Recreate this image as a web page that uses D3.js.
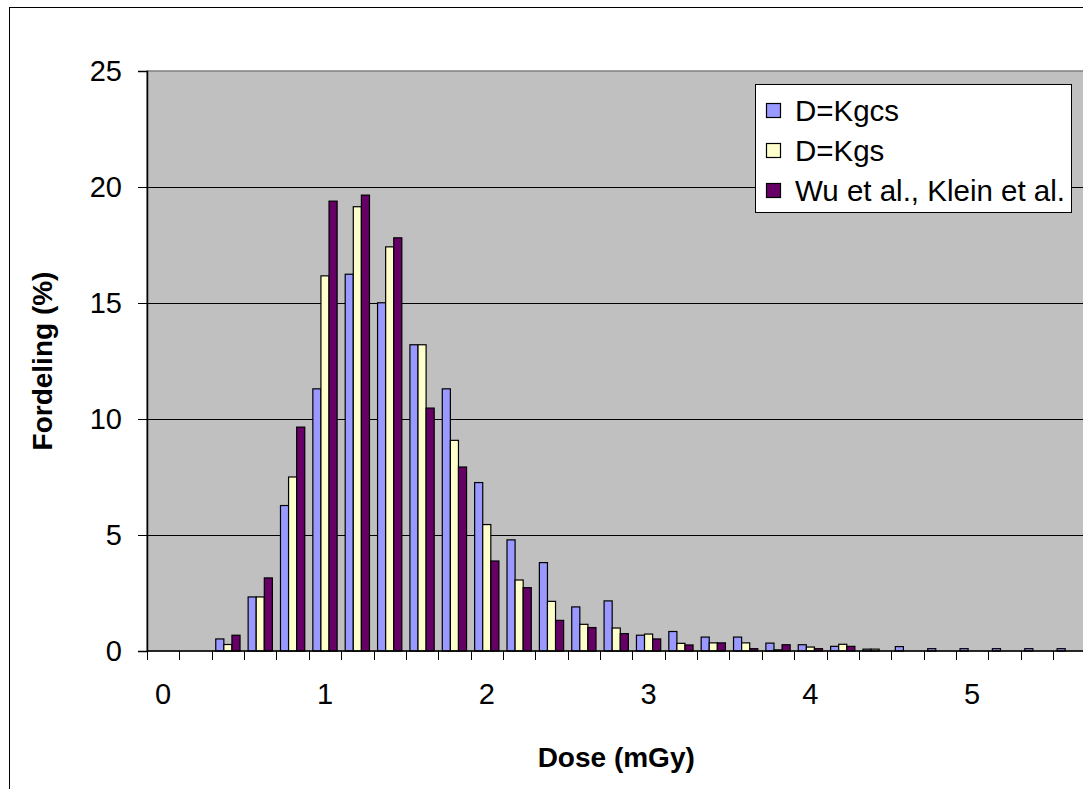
<!DOCTYPE html>
<html>
<head>
<meta charset="utf-8">
<script src="https://cdn.jsdelivr.net/npm/d3@7/dist/d3.min.js"></script>
<style>
  html, body { margin: 0; padding: 0; background: #ffffff; }
  svg { display: block; }
  text { font-family: "Liberation Sans", Arial, sans-serif; fill: #000; }
</style>
</head>
<body>
<svg id="chart" width="1083" height="789"></svg>
<script>
// ---- data ----
const categories = ["0.0","0.2","0.4","0.6","0.8","1.0","1.2","1.4","1.6","1.8",
                    "2.0","2.2","2.4","2.6","2.8","3.0","3.2","3.4","3.6","3.8",
                    "4.0","4.2","4.4","4.6","4.8","5.0","5.2","5.4","5.6"];
const seriesNames = ["D=Kgcs", "D=Kgs", "Wu et al., Klein et al."];
const kgcs  = [0, 0, 0.52, 2.33, 6.27, 11.30, 16.24, 15.01, 13.20, 11.30,
               7.26, 4.79, 3.81, 1.90, 2.16, 0.68, 0.84, 0.60, 0.60, 0.34,
               0.27, 0.20, 0.08, 0.19, 0.10, 0.10, 0.10, 0.10, 0.10];
const kgs   = [0, 0, 0.28, 2.33, 7.50, 16.17, 19.15, 17.42, 13.20, 9.08,
               5.45, 3.06, 2.14, 1.15, 0.99, 0.73, 0.33, 0.35, 0.35, 0.05,
               0.17, 0.29, 0.08, 0, 0, 0, 0, 0, 0];
const wuKlein = [0, 0, 0.68, 3.15, 9.65, 19.39, 19.65, 17.81, 10.47, 7.93,
               3.88, 2.73, 1.32, 1.01, 0.75, 0.52, 0.26, 0.35, 0.10, 0.27,
               0.10, 0.20, 0, 0, 0, 0, 0, 0, 0];
const seriesColors = ["#9999FF", "#FFFFCC", "#660066"];
const yTicks = [0, 5, 10, 15, 20, 25];
const xTickCategories = ["0.0", "1.0", "2.0", "3.0", "4.0", "5.0"];
const xTickLabels = ["0", "1", "2", "3", "4", "5"];
const yTitle = "Fordeling (%)";
const xTitle = "Dose (mGy)";

// ---- layout ----
const svg = d3.select("#chart");
const plotLeft = 147, plotTop = 71, plotBottom = 651;
const bandW = 32.36;
const plotRight = plotLeft + bandW * categories.length;

// chart outer border
svg.append("rect").attr("x", 9.5).attr("y", 7.5)
  .attr("width", 1200).attr("height", 900)
  .attr("fill", "#fff").attr("stroke", "#000").attr("stroke-width", 1);

const x = d3.scaleBand().domain(categories).range([plotLeft, plotRight]).padding(0);
const x1 = d3.scaleBand().domain(seriesNames)
  .range([x.bandwidth() * 0.125, x.bandwidth() * 0.875]).padding(0);
const y = d3.scaleLinear().domain([0, 25]).range([plotBottom, plotTop]);

// plot area
svg.append("rect").attr("x", plotLeft).attr("y", plotTop)
  .attr("width", plotRight - plotLeft).attr("height", plotBottom - plotTop)
  .attr("fill", "#C0C0C0").attr("stroke", "#808080").attr("stroke-width", 1.5);

// gridlines
svg.append("g").selectAll("line").data(yTicks.filter(d => d > 0 && d < 25)).join("line")
  .attr("x1", plotLeft).attr("x2", plotRight)
  .attr("y1", d => Math.round(y(d)) + 0.5).attr("y2", d => Math.round(y(d)) + 0.5)
  .attr("stroke", "#000").attr("stroke-width", 1);

// bars
const table = categories.map((c, i) => ({
  cat: c,
  vals: [kgcs[i], kgs[i], wuKlein[i]]
}));
const groups = svg.append("g").selectAll("g").data(table).join("g")
  .attr("transform", d => `translate(${x(d.cat)},0)`);
groups.selectAll("rect")
  .data(d => d.vals.map((v, k) => ({ v, k })).filter(e => e.v > 0))
  .join("rect")
  .attr("x", e => x1(seriesNames[e.k]))
  .attr("width", x1.bandwidth())
  .attr("y", e => y(e.v))
  .attr("height", e => y(0) - y(e.v))
  .attr("fill", e => seriesColors[e.k])
  .attr("stroke", "#000").attr("stroke-width", 1.2);

// y axis
const yAxis = svg.append("g").attr("transform", `translate(${plotLeft},0)`)
  .call(d3.axisLeft(y).tickValues(yTicks).tickSize(9).tickPadding(16).tickFormat(d3.format("d")));
yAxis.select(".domain").attr("stroke", "#000").attr("stroke-width", 1.5);
yAxis.selectAll(".tick line").attr("stroke", "#000");
yAxis.selectAll(".tick text").style("font-size", "29px")
  .style("font-family", "Liberation Sans, Arial, sans-serif");

// x axis: tick marks at category boundaries
const xAxisG = svg.append("g");
xAxisG.append("line").attr("x1", plotLeft).attr("x2", plotRight)
  .attr("y1", plotBottom).attr("y2", plotBottom)
  .attr("stroke", "#000").attr("stroke-width", 1.5);
xAxisG.selectAll("line.tk").data(categories.concat(["end"])).join("line")
  .attr("class", "tk")
  .attr("x1", (d, i) => Math.round(i < categories.length ? x(d) : plotRight) + 0.5)
  .attr("x2", (d, i) => Math.round(i < categories.length ? x(d) : plotRight) + 0.5)
  .attr("y1", plotBottom).attr("y2", plotBottom + 9)
  .attr("stroke", "#000").attr("stroke-width", 1);
xAxisG.selectAll("text").data(xTickCategories).join("text")
  .attr("x", d => x(d) + x.bandwidth() / 2)
  .attr("y", 704)
  .attr("text-anchor", "middle")
  .style("font-size", "29px")
  .text((d, i) => xTickLabels[i]);

// axis titles
svg.append("text")
  .attr("transform", `translate(52,${(plotTop + plotBottom) / 2}) rotate(-90)`)
  .attr("text-anchor", "middle")
  .style("font-size", "28px").style("font-weight", "bold")
  .text(yTitle);
svg.append("text")
  .attr("x", (plotLeft + plotRight) / 2).attr("y", 767)
  .attr("text-anchor", "middle")
  .style("font-size", "28px").style("font-weight", "bold")
  .text(xTitle);

// legend
const lg = svg.append("g");
lg.append("rect").attr("x", 755.5).attr("y", 84.5).attr("width", 316).attr("height", 128)
  .attr("fill", "#fff").attr("stroke", "#000").attr("stroke-width", 1);
const rowY = d3.scalePoint().domain(seriesNames).range([111, 191]);
const items = lg.selectAll("g.item").data(seriesNames).join("g").attr("class", "item")
  .attr("transform", d => `translate(0,${rowY(d)})`);
items.append("rect").attr("x", 766.5).attr("y", -7.5).attr("width", 14).attr("height", 14)
  .attr("fill", (d, i) => seriesColors[i]).attr("stroke", "#000").attr("stroke-width", 1.2);
items.append("text").attr("x", 795).attr("y", 10)
  .style("font-size", "29.5px").text(d => d);
</script>
</body>
</html>
